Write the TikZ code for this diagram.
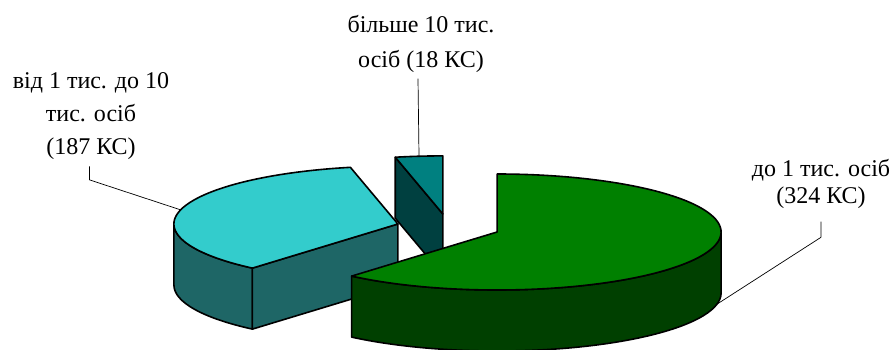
\documentclass[tikz,border=0pt]{standalone}
\usepackage{fontspec}
\setmainfont{Liberation Serif}
\usetikzlibrary{calc}
\definecolor{greentop}{RGB}{0,128,0}
\definecolor{greenside}{RGB}{0,64,0}
\definecolor{cyantop}{RGB}{51,204,204}
\definecolor{cyanside}{RGB}{30,102,102}
\definecolor{tealtop}{RGB}{0,128,128}
\definecolor{tealside}{RGB}{0,64,64}
\begin{document}
\begin{tikzpicture}[x=1pt, y=1pt, line join=round,
    slice/.style={draw=black, line width=1.6pt},
    rim/.style={x radius=224, y radius=58},
    leader/.style={draw=black, line width=0.7pt},
    lbl/.style={align=center, inner sep=0pt, anchor=north}]
    \useasboundingbox (0,0) rectangle (896,-350);
    % Slice centres (exploded pie)
    \coordinate (T) at (442.8,-213.9);
    \coordinate (B) at (397.9,-224.0);
    \coordinate (G) at (497.1,-232.0);
    % Small slice (18)
    \draw [slice, fill=tealside] (T) -- ($(T)+(102.25:224 and 58)$) -- ++(0,-61) -- ($(T)+(0,-61)$) -- cycle;
    \draw [slice, fill=tealtop] (T) -- ($(T)+(90:224 and 58)$) arc [rim, start angle=90, end angle=102.25] -- cycle;
    % Middle slice (187)
    \draw [slice, fill=cyanside] ($(B)+(180:224 and 58)$) arc [rim, start angle=180, end angle=229.5] -- ++(0,-61) arc [rim, start angle=229.5, end angle=180] -- cycle;
    \draw [slice, fill=cyanside] (B) -- ($(B)+(229.5:224 and 58)$) -- ++(0,-61) -- ($(B)+(0,-61)$) -- cycle;
    \draw [slice, fill=cyantop] (B) -- ($(B)+(102.25:224 and 58)$) arc [rim, start angle=102.25, end angle=229.5] -- cycle;
    % Big slice (324)
    \draw [slice, fill=greenside] ($(G)+(229.5:224 and 58)$) arc [rim, start angle=229.5, end angle=360] -- ++(0,-61) arc [rim, start angle=360, end angle=229.5] -- cycle;
    \draw [slice, fill=greentop] (G) -- ($(G)+(229.5:224 and 58)$) arc [rim, start angle=229.5, end angle=450] -- cycle;
    % Labels
    \node [lbl, font=\fontsize{24}{35}\selectfont] (lblSmall) at (421,-15) {більше 10 тис.\\осіб (18 КС)};
    \node [lbl, font=\fontsize{24}{33}\selectfont] (lblMid) at (91,-72) {від 1 тис. до 10\\тис. осіб\\(187 КС)};
    \node [lbl, font=\fontsize{24}{27}\selectfont] (lblBig) at (821,-159) {до 1 тис. осіб\\(324 КС)};
    % Leader lines
    \coordinate (smallTip) at ($(T)+(96.1:224 and 58)$);
    \coordinate (midTip) at ($(B)+(165.9:224 and 58)$);
    \coordinate (bigTip) at ($(G)+(-11.2:224 and 58)+(0,-61)$);
    \draw [leader] ([shift={(-3,-6)}]lblSmall.south) -- (smallTip);
    \draw [leader] ([shift={(-1.5,-7)}]lblMid.south) -- ++(0,-13.4) -- (midTip);
    \draw [leader] ([yshift=-13]lblBig.south) -- ++(0,-15.6) -- (bigTip);
\end{tikzpicture}
\end{document}
